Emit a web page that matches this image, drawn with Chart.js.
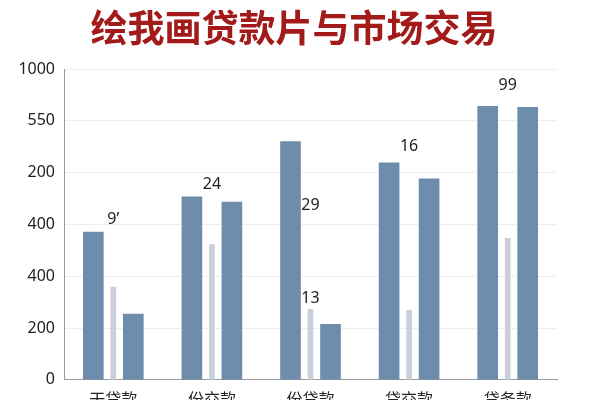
<!DOCTYPE html>
<html>
<head>
<meta charset="utf-8">
<script src="https://cdn.jsdelivr.net/npm/chart.js@4.4.3/dist/chart.umd.js"></script>
<style>
    html, body { margin: 0; padding: 0; background: #ffffff; overflow: hidden; width: 600px; height: 400px; }
    #wrap { width: 600px; height: 411px; position: relative; }
    #title {
        position: absolute; left: 0; width: 588px; top: 2px; text-align: center;
        font-family: "Noto Sans CJK SC"; font-weight: bold; font-size: 37px; color: #a31a1a;
        line-height: 48px;
    }
</style>
</head>
<body>
<div id="wrap"><canvas id="chart"></canvas><div id="title">绘我画贷款片与市场交易</div></div>
<script>
    const categories = ['干贷款', '份交款', '份贷款', '贷交款', '贷务款'];
    const tickLabels = ['0', '200', '400', '400', '200', '550', '1000'];
    const seriesA = [2.85, 3.53, 4.6, 4.19, 5.28];
    const seriesB = [1.79, 2.61, 1.36, 1.34, 2.73];
    const seriesC = [1.27, 3.43, 1.07, 3.88, 5.26];
    // value labels drawn over the groups: [category index, text, axis value]
    const valueLabels = [[0, '9’', 3.1], [1, '24', 3.77], [2, '29', 3.37], [2, '13', 1.57], [3, '16', 4.5], [4, '99', 5.68]];

    const labelPlugin = {
        id: 'valueLabels',
        afterDatasetsDraw(chart) {
            const ctx = chart.ctx;
            const x = chart.scales.x, y = chart.scales.y;
            ctx.save();
            ctx.font = '16px "Noto Sans", sans-serif';
            ctx.fillStyle = '#222';
            ctx.textAlign = 'center';
            ctx.textBaseline = 'middle';
            valueLabels.forEach(l => ctx.fillText(l[1], x.getPixelForValue(l[0]), y.getPixelForValue(l[2])));
            ctx.restore();
        }
    };

    new Chart(document.getElementById('chart'), {
        type: 'bar',
        data: {
            labels: categories,
            datasets: [
                { data: seriesA, backgroundColor: '#6e8cab', barThickness: 20 },
                { data: seriesB, backgroundColor: '#c9d0db', barThickness: 5 },
                { data: seriesC, backgroundColor: '#6e8cab', barThickness: 20 }
            ]
        },
        options: {
            responsive: true,
            maintainAspectRatio: false,
            animation: false,
            categoryPercentage: 0.59,
            layout: { padding: { top: 69, right: 43, left: 7, bottom: 0 } },
            plugins: {
                legend: { display: false },
                tooltip: { enabled: false },
                title: { display: false }
            },
            scales: {
                x: {
                    grid: { display: false },
                    border: { color: '#999' },
                    ticks: { color: '#222', font: { family: '"Noto Sans CJK SC"', size: 16 }, padding: 2 }
                },
                y: {
                    min: 0, max: 6,
                    afterFit(s) { s.width = 57; },
                    grid: { color: '#eeeeee', drawTicks: false },
                    border: { color: '#999' },
                    ticks: {
                        stepSize: 1, padding: 9, color: '#222',
                        font: { family: '"Noto Sans"', size: 16 },
                        callback: v => tickLabels[v]
                    }
                }
            }
        },
        plugins: [labelPlugin]
    });
</script>
</body>
</html>
